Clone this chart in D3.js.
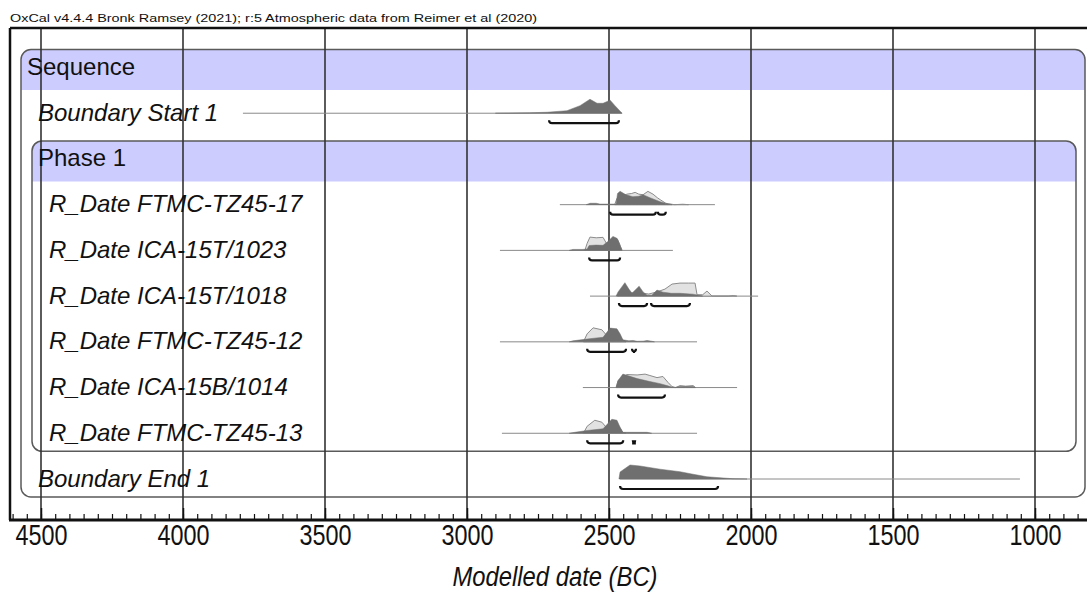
<!DOCTYPE html>
<html>
<head>
<meta charset="utf-8">
<script src="https://cdn.jsdelivr.net/npm/d3@7"></script>
<style>
body{margin:0;background:#fff}
svg{display:block}
</style>
</head>
<body>
<svg id="chart" width="1087" height="594"></svg>
<script>
var header = "OxCal v4.4.4 Bronk Ramsey (2021); r:5 Atmospheric data from Reimer et al (2020)"
var axisTitle = "Modelled date (BC)"
var majorTicks = [4500, 4000, 3500, 3000, 2500, 2000, 1500, 1000]

var rowNames = ["Sequence", "Boundary Start 1", "Phase 1",
  "R_Date FTMC-TZ45-17", "R_Date ICA-15T/1023", "R_Date ICA-15T/1018",
  "R_Date FTMC-TZ45-12", "R_Date ICA-15B/1014", "R_Date FTMC-TZ45-13",
  "Boundary End 1"]
var rowKind = ["group", "item", "group", "item", "item", "item", "item", "item", "item", "item"]
var rowLevel = [0, 1, 1, 2, 2, 2, 2, 2, 2, 1]

// year range of the thin line under each distribution
var spans = [null, [3789, 2454], null, [2673, 2127], [2884, 2275], [2567, 1975],
  [2884, 2190], [2592, 2049], [2877, 2190], [2461, 1053]]

// likelihoods (light, unmodelled) : [year BC, relative prob]
var likelihoods = [null, null, null,
  [[2480,0],[2472,0.45],[2455,0.6],[2437,0.75],[2420,0.8],[2408,0.88],[2395,0.75],[2380,0.71],[2363,0.95],[2345,0.75],[2330,0.5],[2320,0.36],[2300,0.1],[2292,0.07],[2270,0],[2240,0.03],[2220,0]],
  [[2585,0],[2577,0.5],[2567,0.95],[2545,0.9],[2521,0.93],[2507,0.43],[2495,0.7],[2486,0.86],[2470,0.8],[2460,0.3],[2454,0]],
  [[2470,0],[2440,0.2],[2400,0.25],[2360,0.15],[2331,0.3],[2303,0.5],[2278,0.86],[2250,0.93],[2220,0.93],[2197,0.93],[2190,0.1],[2170,0.1],[2155,0.36],[2137,0],[2080,0],[2063,0.04],[2050,0]],
  [[2590,0],[2577,0.57],[2556,1.0],[2525,0.86],[2507,0.43],[2486,0.71],[2465,0.5],[2451,0.1],[2440,0]],
  [[2475,0],[2468,0.5],[2437,0.93],[2401,0.9],[2373,0.96],[2356,0.86],[2331,0.71],[2310,0.79],[2292,0.36],[2278,0.07],[2265,0],[2250,0.14],[2230,0.1],[2204,0.14],[2195,0]],
  [[2590,0],[2577,0.5],[2550,0.93],[2525,0.79],[2507,0.36],[2486,0.71],[2465,0.5],[2451,0.05],[2440,0]],
  null]

// posteriors (dark, modelled)
var posteriors = [null,
  [[2900,0],[2780,0.03],[2718,0.07],[2648,0.18],[2602,0.54],[2567,1.0],[2542,0.71],[2521,0.71],[2496,0.93],[2479,0.54],[2454,0]],
  null,
  [[2580,0],[2567,0.1],[2545,0.1],[2532,0.04],[2475,0.04],[2470,0.8],[2461,0.95],[2440,0.7],[2416,0.57],[2395,0.6],[2380,0.71],[2356,0.5],[2320,0.21],[2296,0.07],[2278,0]],
  [[2640,0],[2627,0.07],[2592,0.07],[2577,0.1],[2570,0.35],[2545,0.38],[2521,0.36],[2504,0.64],[2486,1.0],[2472,0.86],[2465,0.57],[2454,0]],
  [[2475,0],[2468,0.3],[2444,0.96],[2430,0.5],[2419,0.21],[2394,0.71],[2380,0.3],[2366,0.07],[2349,0.07],[2331,0.43],[2310,0.28],[2280,0.2],[2250,0.2],[2204,0.14],[2180,0.04],[2170,0]],
  [[2640,0],[2627,0.07],[2577,0.2],[2535,0.3],[2521,0.32],[2496,0.98],[2472,0.93],[2461,0.57],[2451,0.14],[2430,0.08],[2415,0.1],[2401,0.04],[2380,0.05],[2366,0.1],[2349,0.04],[2340,0]],
  [[2475,0],[2468,0.5],[2451,0.96],[2401,0.64],[2356,0.43],[2320,0.28],[2296,0.14],[2285,0.07],[2270,0],[2250,0.07],[2204,0.07],[2195,0]],
  [[2640,0],[2620,0.07],[2577,0.2],[2521,0.32],[2490,1.0],[2472,0.93],[2461,0.43],[2451,0.07],[2415,0.07],[2366,0.07],[2350,0]],
  [[2465,0],[2461,0.5],[2426,1.0],[2391,0.93],[2320,0.7],[2250,0.52],[2204,0.34],[2155,0.16],[2109,0.09],[2063,0.02],[2014,0]]]

// highest posterior density ranges
var ranges = [null, [[2711, 2465]], null,
  [[2496, 2335], [2328, 2300]],
  [[2570, 2461]],
  [[2465, 2366], [2352, 2215]],
  [[2577, 2440], [2419, 2405]],
  [[2468, 2303]],
  [[2577, 2450], [2416, 2408]],
  [[2461, 2116]]]

var W = 1087, H = 594
var svg = d3.select("#chart")
var font = "'Liberation Sans', Arial, sans-serif"

var x = d3.scaleLinear().domain([4500, 1000]).range([41, 1035])
var yRow = d3.scaleLinear().domain([0, 9]).range([66.5, 478])
var hScale = d3.scaleLinear().domain([0, 1]).range([0, 14])

var frameTop = 28, axisY = 520, frameLeft = 10

function topRounded(x0, y0, x1, y1, r) {
  return "M" + x0 + "," + y1 + "V" + (y0 + r) + "Q" + x0 + "," + y0 + " " + (x0 + r) + "," + y0 +
    "H" + (x1 - r) + "Q" + x1 + "," + y0 + " " + x1 + "," + (y0 + r) + "V" + y1 + "Z"
}

// group boxes
var boxes = [
  {row: 0, last: 9, x0: 21, x1: 1085},
  {row: 2, last: 8, x0: 32, x1: 1076}
]
boxes.forEach(function(b) {
  var top = yRow(b.row) - 17
  var bottom = yRow(b.last) + 19
  svg.append("path")
    .attr("d", topRounded(b.x0, top, b.x1, yRow(b.row) + 23.5, 10))
    .attr("fill", "#ccccff")
  svg.append("rect")
    .attr("x", b.x0).attr("y", top)
    .attr("width", b.x1 - b.x0).attr("height", bottom - top)
    .attr("rx", 10)
    .attr("fill", "none")
    .attr("stroke", "#5a5a5a")
    .attr("stroke-width", 1.5)
})

// grid
svg.append("g").selectAll("line")
  .data(majorTicks)
  .join("line")
  .attr("x1", function(d) { return x(d) })
  .attr("x2", function(d) { return x(d) })
  .attr("y1", frameTop)
  .attr("y2", axisY)
  .attr("stroke", "#333")
  .attr("stroke-width", 1.6)

// labels
svg.append("g").selectAll("text")
  .data(rowNames)
  .join("text")
  .attr("x", function(d, i) { return [27, 38, 49][rowLevel[i]] })
  .attr("y", function(d, i) { return yRow(i) + 8.5 })
  .attr("font-family", font)
  .attr("font-size", 24)
  .attr("font-style", function(d, i) { return rowKind[i] == "item" ? "italic" : "normal" })
  .attr("fill", "#111")
  .text(function(d) { return d })

// distributions
var area = d3.area()
  .x(function(d) { return x(d[0]) })
  .y0(0)
  .y1(function(d) { return -hScale(d[1]) })

rowNames.forEach(function(name, i) {
  if (!spans[i]) return
  var g = svg.append("g").attr("transform", "translate(0," + (yRow(i) + 1) + ")")
  g.append("line")
    .attr("x1", x(spans[i][0])).attr("x2", x(spans[i][1]))
    .attr("stroke", "#8a8a8a")
    .attr("stroke-width", 1)
  if (likelihoods[i]) {
    g.append("path")
      .attr("d", area(likelihoods[i]))
      .attr("fill", "#e2e2e2")
      .attr("stroke", "#8c8c8c")
      .attr("stroke-width", 1)
  }
  if (posteriors[i]) {
    g.append("path")
      .attr("d", area(posteriors[i]))
      .attr("fill", "#6f6f6f")
      .attr("stroke", "#6f6f6f")
      .attr("stroke-width", 0.5)
  }
  ranges[i].forEach(function(r) {
    var a = x(r[0]), b = x(r[1]), yb = 10
    g.append("path")
      .attr("d", "M" + a + "," + (yb - 3) + "Q" + a + "," + yb + " " + (a + 3) + "," + yb +
        "H" + (b - 3) + "Q" + b + "," + yb + " " + b + "," + (yb - 3))
      .attr("fill", "none")
      .attr("stroke", "#111")
      .attr("stroke-width", 2.2)
  })
})

// frame
svg.append("line")
  .attr("x1", frameLeft).attr("x2", W)
  .attr("y1", frameTop).attr("y2", frameTop)
  .attr("stroke", "#111").attr("stroke-width", 2.5)
svg.append("line")
  .attr("x1", frameLeft).attr("x2", frameLeft)
  .attr("y1", frameTop).attr("y2", axisY)
  .attr("stroke", "#111").attr("stroke-width", 2.5)

// axis
var minor = d3.range(4600, 849, -50)
var minorAxis = svg.append("g")
  .attr("transform", "translate(0," + axisY + ")")
  .call(d3.axisBottom(x).tickValues(minor).tickSize(-6).tickFormat(""))
minorAxis.select(".domain").remove()
minorAxis.selectAll("line").attr("stroke", "#111").attr("stroke-width", 1.2)

var majorAxis = svg.append("g")
  .attr("transform", "translate(0," + axisY + ")")
  .call(d3.axisBottom(x).tickValues(majorTicks).tickSize(-12).tickPadding(4).tickFormat(d3.format("d")))
majorAxis.select(".domain").remove()
majorAxis.selectAll("line").attr("stroke", "#111").attr("stroke-width", 1.5)
majorAxis.selectAll("text")
  .attr("font-family", font)
  .attr("font-size", 30)
  .attr("textLength", 52)
  .attr("lengthAdjust", "spacingAndGlyphs")
  .attr("fill", "#111")

svg.append("line")
  .attr("x1", frameLeft - 1).attr("x2", W)
  .attr("y1", axisY).attr("y2", axisY)
  .attr("stroke", "#111").attr("stroke-width", 3)

svg.append("text")
  .attr("x", 555).attr("y", 586)
  .attr("text-anchor", "middle")
  .attr("font-family", font)
  .attr("font-style", "italic")
  .attr("font-size", 27)
  .attr("textLength", 205)
  .attr("lengthAdjust", "spacingAndGlyphs")
  .attr("fill", "#111")
  .text(axisTitle)

svg.append("text")
  .attr("x", 10).attr("y", 22)
  .attr("font-family", font)
  .attr("font-size", 11)
  .attr("textLength", 527)
  .attr("lengthAdjust", "spacingAndGlyphs")
  .attr("fill", "#111")
  .text(header)
</script>
</body>
</html>
